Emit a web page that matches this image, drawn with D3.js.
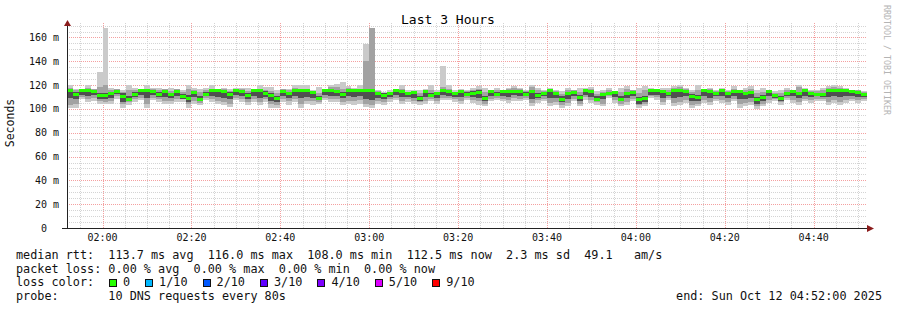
<!DOCTYPE html>
<html>
<head>
<meta charset="utf-8">
<script src="https://cdn.jsdelivr.net/npm/d3@7"></script>
<style>
body { margin: 0; background: #fff; }
svg text { font-family: "DejaVu Sans Mono", monospace; white-space: pre; }
</style>
</head>
<body>
<svg id="chart" width="897" height="310"></svg>
<script>
"use strict";

// time range of the graph, one step every 80s
var startTime = Date.UTC(2025, 9, 12, 1, 52, 0),
    endTime = Date.UTC(2025, 9, 12, 4, 52, 0),
    stepSeconds = 80;

// median rtt per step (ms)
var median = [
    115.6,112.8,115.8,115.8,115.0,112.0,112.0,113.0,115.0,111.0,108.6,112.8,115.8,115.8,115.0,112.8,115.0,112.5,115.0,111.0,
    109.5,114.0,108.6,112.8,116.0,116.0,115.0,112.8,115.8,115.0,112.0,115.8,115.8,113.5,111.4,109.2,115.0,113.0,116.0,116.0,
    115.5,114.0,109.0,115.8,115.8,115.0,112.8,116.0,116.0,115.8,115.8,115.8,113.5,112.0,113.0,115.8,115.0,113.0,114.0,109.0,
    115.0,112.0,113.0,115.8,115.0,113.0,115.0,112.8,113.7,114.2,109.2,115.3,112.8,115.3,115.3,115.3,114.8,112.8,115.3,112.0,
    113.7,115.9,113.7,108.6,113.7,114.2,109.7,115.9,114.8,108.6,112.5,113.1,114.2,108.6,113.1,114.2,108.0,109.2,115.9,115.9,
    114.8,113.7,115.9,115.9,115.3,111.0,109.7,115.9,115.3,113.1,115.9,113.1,115.3,115.3,113.1,114.2,108.1,109.7,115.3,111.4,
    108.9,113.1,115.3,113.1,115.9,113.1,112.5,112.8,115.9,115.9,115.9,115.9,114.8,114.2,112.5
];

// smoke: outer band (min / max ping)
var smokeLo = [
    100.8,100.8,108.0,105.8,107.0,104.0,104.0,104.4,108.6,100.8,103.0,105.8,107.2,100.8,107.2,105.8,104.4,104.4,105.8,106.0,
    100.8,104.4,103.0,107.2,105.8,104.4,103.6,101.6,107.2,105.8,103.6,105.8,103.0,105.8,100.8,100.8,105.8,103.6,105.8,100.8,
    104.4,103.6,104.4,107.2,105.8,105.8,103.0,104.4,103.6,104.4,101.6,100.8,104.4,103.0,105.8,107.2,104.4,105.8,104.4,103.6,
    104.4,106.4,104.4,107.2,107.2,105.8,104.4,107.8,105.0,103.6,102.2,106.4,107.8,106.4,105.0,106.4,106.4,107.8,102.2,105.0,
    106.4,102.2,103.6,100.8,102.2,106.4,102.2,107.8,105.0,103.6,102.2,109.2,105.0,102.2,103.6,106.4,100.8,102.2,109.2,107.8,
    103.6,107.8,102.2,103.6,105.0,100.8,102.2,105.0,103.6,106.4,105.0,103.6,106.4,100.8,102.2,103.6,100.2,102.2,105.0,106.4,
    103.6,107.8,105.0,103.6,106.4,105.0,106.4,106.4,103.6,105.0,103.6,105.0,106.4,105.0,106.4
];
var smokeHi = [
    119.8,117.0,117.0,119.8,117.0,131.3,168.0,117.5,117.0,116.0,119.8,117.5,117.0,119.8,117.5,117.5,117.0,117.5,117.0,116.0,
    119.8,117.5,116.5,117.5,119.8,117.0,117.5,117.0,117.6,117.5,117.5,117.0,119.8,118.4,118.4,115.6,117.0,117.0,119.8,119.8,
    119.8,115.6,118.4,117.0,120.4,121.2,122.6,119.3,117.5,119.8,154.5,168.0,115.6,114.2,115.6,117.0,119.8,115.6,116.0,115.6,
    116.5,119.8,115.6,136.1,119.8,115.6,116.5,116.2,117.6,119.0,117.6,116.2,117.6,116.0,117.6,119.0,117.6,116.2,120.4,117.6,
    116.2,117.6,116.2,114.8,117.6,116.2,117.6,117.6,118.1,114.8,116.2,117.6,115.3,117.6,119.0,116.2,117.6,119.0,117.6,117.0,
    117.6,117.6,119.0,120.4,117.6,116.2,120.4,116.8,117.6,116.2,117.6,116.2,119.0,116.2,117.6,119.0,116.2,117.6,116.2,114.8,
    116.2,117.6,116.2,120.4,117.6,116.2,116.2,117.6,119.0,120.4,119.0,117.6,116.0,116.2,114.8
];

// smoke: middle band
var midLo = [
    103.5,104.0,110.0,108.0,109.5,106.5,106.0,107.0,110.5,104.0,105.5,108.0,109.5,104.5,109.5,108.0,107.0,107.0,108.5,108.0,
    104.0,107.0,105.0,109.0,108.5,107.0,106.0,104.5,109.5,108.0,106.0,108.5,106.0,108.0,104.0,103.5,108.5,106.5,108.5,104.0,
    107.0,106.5,106.0,109.5,108.5,108.5,106.0,107.0,106.5,107.5,104.5,103.5,107.0,105.5,108.0,109.5,107.0,108.0,107.0,105.5,
    107.0,108.5,107.0,109.5,109.5,108.0,107.0,109.5,107.5,106.5,104.5,108.5,109.5,108.5,107.5,109.0,108.5,109.5,105.0,107.5,
    108.5,105.0,106.0,103.5,105.0,108.5,104.5,110.0,107.5,105.5,104.5,110.5,107.5,104.5,106.0,108.5,103.0,104.0,110.5,110.0,
    106.0,109.5,105.0,106.0,107.5,103.5,104.0,107.5,106.0,108.5,107.5,106.0,108.5,104.0,105.0,106.0,102.5,104.5,107.5,108.0,
    105.5,109.5,107.5,106.0,108.5,107.5,108.5,108.5,106.0,107.5,106.0,107.5,108.5,107.5,108.5
];
var midHi = [
    117.5,115.5,116.5,117.5,116.5,118.0,120.0,115.5,116.5,114.0,116.0,115.5,116.5,117.0,116.5,115.5,116.5,115.0,116.5,114.0,
    116.5,116.0,114.0,115.5,117.0,116.5,116.5,115.0,116.5,116.5,115.0,116.5,117.0,116.0,115.0,113.0,116.5,115.5,117.5,117.0,
    117.0,115.0,113.5,116.5,118.0,118.5,117.0,117.5,116.5,117.0,140.0,168.0,115.0,113.5,114.5,116.5,117.0,114.5,115.0,113.0,
    116.0,116.0,114.5,118.0,117.0,114.5,116.0,115.0,116.0,117.0,114.0,116.0,115.5,115.8,116.5,117.5,116.5,115.0,118.0,116.0,
    115.0,116.8,115.0,112.5,116.0,115.5,114.0,116.8,116.5,112.5,114.5,116.0,115.0,114.0,117.0,115.5,113.0,116.0,116.8,116.6,
    116.0,116.0,117.5,118.0,116.5,114.5,116.0,116.5,116.5,115.0,116.8,115.0,117.0,116.0,116.0,117.0,113.0,114.5,116.0,113.5,
    113.0,115.5,116.0,118.0,116.8,115.0,115.0,116.0,117.5,118.0,117.5,116.8,115.6,115.5,114.0
];

// smoke: dark core
var coreLo = [
    109.0,108.5,112.0,110.5,111.5,108.5,108.5,109.5,112.5,106.0,106.5,110.0,111.5,109.0,111.5,110.0,110.0,109.0,110.5,108.5,
    106.0,110.0,106.5,110.5,111.0,110.0,109.0,108.0,111.5,110.5,108.5,111.0,109.5,110.0,107.0,106.0,110.5,109.0,111.0,109.0,
    110.0,109.5,107.5,111.5,111.0,110.5,109.0,110.5,110.0,110.5,108.5,107.5,109.5,108.5,110.0,111.5,110.0,110.0,109.5,107.0,
    110.0,110.0,109.5,111.5,111.0,110.0,110.0,110.5,110.0,109.0,106.5,111.0,110.5,111.0,110.0,111.5,110.5,110.5,108.5,109.5,
    110.5,109.0,109.0,106.0,108.5,110.5,106.5,112.0,110.0,106.5,108.0,111.5,110.0,106.5,109.0,110.5,104.5,106.0,112.0,112.0,
    109.5,111.0,109.5,110.0,110.5,106.5,106.5,110.5,109.5,110.5,110.5,109.0,111.0,108.5,108.5,109.5,104.5,106.5,110.5,109.0,
    106.5,111.0,110.5,109.0,111.0,110.0,110.5,110.0,110.0,111.0,110.0,111.0,110.5,110.0,110.0
];
var coreHi = [
    116.5,114.5,116.5,116.5,116.0,113.5,113.5,114.5,116.0,113.0,110.5,114.0,116.5,116.5,116.0,114.0,116.0,113.5,116.0,112.5,
    111.5,115.0,110.5,114.0,116.5,116.5,116.0,114.0,116.5,116.0,113.5,116.5,116.5,115.0,113.0,111.0,116.0,114.5,116.5,116.5,
    116.5,115.0,111.0,116.5,116.5,116.0,114.0,116.5,116.5,116.5,116.5,116.5,114.5,113.5,114.0,116.5,116.0,114.0,115.0,111.0,
    116.0,113.5,114.0,116.5,116.0,114.0,116.0,114.0,115.0,115.5,111.0,116.0,114.0,116.0,116.0,116.0,115.5,114.0,116.0,113.5,
    114.5,116.5,114.5,110.5,114.5,115.0,111.5,116.5,115.5,110.5,113.5,114.0,115.0,110.5,114.0,115.0,110.0,111.0,116.5,116.5,
    115.5,114.5,116.5,116.5,116.0,112.5,111.5,116.5,116.0,114.0,116.5,114.0,116.0,116.0,114.0,115.0,110.0,111.5,116.0,112.5,
    110.5,114.0,116.0,114.0,116.5,114.0,113.5,113.5,116.5,116.5,116.5,116.5,115.5,115.0,113.5
];

var yMajorTicks = [0, 20, 40, 60, 80, 100, 120, 140, 160],
    yTickLabels = ["0  ", "20 m", "40 m", "60 m", "80 m", "100 m", "120 m", "140 m", "160 m"];

var legendLines = [
    "median rtt:  113.7 ms avg  116.0 ms max  108.0 ms min  112.5 ms now  2.3 ms sd  49.1   am/s",
    "packet loss: 0.00 % avg  0.00 % max  0.00 % min  0.00 % now",
    "loss color:",
    "probe:       10 DNS requests every 80s"
];
var lossLabels = ["0", "1/10", "2/10", "3/10", "4/10", "5/10", "9/10"],
    lossColors = ["#26ff00", "#00b8ff", "#0059ff", "#5e00ff", "#7e00ff", "#dd00ff", "#ff0000"];

var svg = d3.select("#chart");

var x = d3.scaleUtc().domain([startTime, endTime]).range([67, 867]),
    y = d3.scaleLinear().domain([0, 172]).range([228, 23.2]);

function stepStart(i) { return startTime + i * stepSeconds * 1000; }
function px(v) { return Math.round(v); }

// grid: minor lines first, then the red major ones
var grid = svg.append("g").attr("shape-rendering", "crispEdges");

grid.selectAll("line.vminor")
    .data(x.ticks(d3.utcMinute.every(5)))
    .enter().append("line")
    .attr("x1", function (d) { return px(x(d)) + 0.5; })
    .attr("x2", function (d) { return px(x(d)) + 0.5; })
    .attr("y1", 228).attr("y2", 23)
    .attr("stroke", "#d4d4d4").attr("stroke-dasharray", "1,1");

grid.selectAll("line.hminor")
    .data(d3.range(5, 175, 5))
    .enter().append("line")
    .attr("x1", 67).attr("x2", 867)
    .attr("y1", function (d) { return px(y(d)) + 0.5; })
    .attr("y2", function (d) { return px(y(d)) + 0.5; })
    .attr("stroke", "#d4d4d4").attr("stroke-dasharray", "1,1");

grid.selectAll("line.vmajor")
    .data(x.ticks(d3.utcMinute.every(20)))
    .enter().append("line")
    .attr("x1", function (d) { return px(x(d)) + 0.5; })
    .attr("x2", function (d) { return px(x(d)) + 0.5; })
    .attr("y1", 228).attr("y2", 23)
    .attr("stroke", "#f4a0a0").attr("stroke-dasharray", "1,1");

grid.selectAll("line.hmajor")
    .data(yMajorTicks.slice(1))
    .enter().append("line")
    .attr("x1", 67).attr("x2", 867)
    .attr("y1", function (d) { return px(y(d)) + 0.5; })
    .attr("y2", function (d) { return px(y(d)) + 0.5; })
    .attr("stroke", "#f4a0a0").attr("stroke-dasharray", "1,1");

// smoke layers, then the median
function band(lo, hi, color) {
    svg.append("g").attr("shape-rendering", "crispEdges")
        .selectAll("rect")
        .data(median)
        .enter().append("rect")
        .attr("x", function (d, i) { return px(x(stepStart(i))); })
        .attr("width", function (d, i) { return px(x(stepStart(i + 1))) - px(x(stepStart(i))); })
        .attr("y", function (d, i) { return px(y(hi[i])); })
        .attr("height", function (d, i) { return Math.max(1, px(y(lo[i])) - px(y(hi[i]))); })
        .attr("fill", color);
}
band(smokeLo, smokeHi, "#cacaca");
band(midLo, midHi, "#a2a2a2");
band(coreLo, coreHi, "#505050");

svg.append("g").attr("shape-rendering", "crispEdges")
    .selectAll("rect")
    .data(median)
    .enter().append("rect")
    .attr("x", function (d, i) { return px(x(stepStart(i))); })
    .attr("width", function (d, i) { return px(x(stepStart(i + 1))) - px(x(stepStart(i))); })
    .attr("y", function (d) { return px(y(d)) - 1; })
    .attr("height", 3)
    .attr("fill", lossColors[0]);

// axes
var axisG = svg.append("g").attr("shape-rendering", "crispEdges");
axisG.append("line").attr("x1", 62).attr("x2", 868).attr("y1", 228.5).attr("y2", 228.5).attr("stroke", "#222");
axisG.append("line").attr("x1", 67.5).attr("x2", 67.5).attr("y1", 229).attr("y2", 25).attr("stroke", "#222");
svg.append("path").attr("d", "M64,26L71,26L67.5,20Z").attr("fill", "#8b1c1c");
svg.append("path").attr("d", "M867,225L867,232L874,228.5Z").attr("fill", "#8b1c1c");

svg.selectAll("text.ytick")
    .data(yMajorTicks)
    .enter().append("text")
    .attr("x", 59)
    .attr("y", function (d) { return y(d) + 3.5; })
    .attr("text-anchor", "end")
    .attr("font-size", "10px")
    .attr("fill", "#111")
    .text(function (d, i) { return yTickLabels[i]; });

var timeFmt = d3.utcFormat("%H:%M");
svg.selectAll("text.xtick")
    .data(x.ticks(d3.utcMinute.every(20)))
    .enter().append("text")
    .attr("x", function (d) { return x(d); })
    .attr("y", 241)
    .attr("text-anchor", "middle")
    .attr("font-size", "10px")
    .attr("fill", "#111")
    .text(timeFmt);

// titles
svg.append("text").attr("x", 448).attr("y", 24).attr("text-anchor", "middle")
    .attr("font-size", "13px").attr("fill", "#000").text("Last 3 Hours");
svg.append("text").attr("transform", "translate(14,123) rotate(-90)").attr("text-anchor", "middle")
    .attr("font-size", "11.5px").attr("fill", "#111").text("Seconds");
svg.append("text").attr("transform", "translate(884,5) rotate(90)")
    .attr("font-size", "8.3px").attr("fill", "#b4b4b4").text("RRDTOOL / TOBI OETIKER");

// legend
var legendBase = [259, 272.5, 286, 300];
svg.selectAll("text.legend")
    .data(legendLines)
    .enter().append("text")
    .attr("x", 16)
    .attr("y", function (d, i) { return legendBase[i]; })
    .attr("font-size", "11.8px")
    .attr("fill", "#111")
    .text(function (d) { return d; });

var lx = 109;
lossLabels.forEach(function (label, i) {
    svg.append("rect").attr("x", lx + 0.5).attr("y", 279.5).attr("width", 7).attr("height", 7)
        .attr("fill", lossColors[i]).attr("stroke", "#111").attr("shape-rendering", "crispEdges");
    var t = svg.append("text").attr("x", lx + 14).attr("y", legendBase[2])
        .attr("font-size", "11.8px").attr("fill", "#111").text(label);
    lx = lx + 14 + t.node().getComputedTextLength() + 15;
});

svg.append("text").attr("x", 882).attr("y", legendBase[3]).attr("text-anchor", "end")
    .attr("font-size", "11.8px").attr("fill", "#111").text("end: Sun Oct 12 04:52:00 2025");
</script>
</body>
</html>
